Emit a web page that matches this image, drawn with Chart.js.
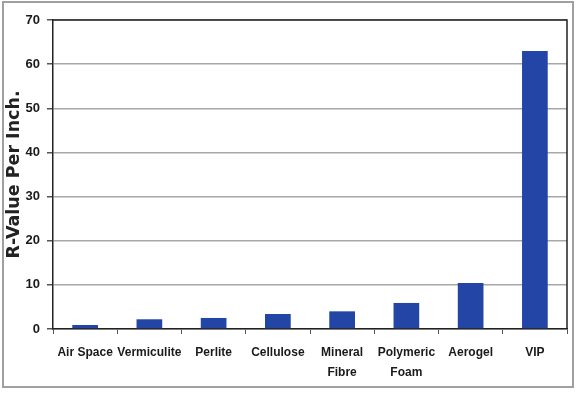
<!DOCTYPE html>
<html>
<head>
<meta charset="utf-8">
<script src="https://cdn.jsdelivr.net/npm/chart.js@4.4.3/dist/chart.umd.min.js"></script>
<style>
  html, body { margin: 0; padding: 0; background: #fff; }
  #wrap { width: 577px; height: 393px; position: relative; }
</style>
</head>
<body>
<div id="wrap"><canvas id="chart" width="577" height="393"></canvas></div>
<script>
const materials = ['Air Space', 'Vermiculite', 'Perlite', 'Cellulose', ['Mineral', 'Fibre'], ['Polymeric', 'Foam'], 'Aerogel', 'VIP'];
const rValues = [0.9, 2.2, 2.5, 3.4, 4.0, 5.9, 10.4, 63];
const yTicks = [0, 10, 20, 30, 40, 50, 60, 70];

const narrow = '"Liberation Sans Narrow", "Arial Narrow", "Liberation Sans", sans-serif';

// outer frame + dark top/right edges of the plot box
const framePlugin = {
  id: 'frame',
  afterDraw(chart) {
    const ctx = chart.ctx;
    const a = chart.chartArea;
    ctx.save();
    ctx.strokeStyle = '#a0a0a0';
    ctx.lineWidth = 2;
    ctx.strokeRect(3, 2, 570, 385);
    ctx.strokeStyle = '#222';
    ctx.lineWidth = 1.5;
    ctx.beginPath();
    ctx.moveTo(a.left, a.top);
    ctx.lineTo(a.right, a.top);
    ctx.lineTo(a.right, a.bottom);
    ctx.stroke();
    ctx.restore();
  }
};

new Chart(document.getElementById('chart'), {
  type: 'bar',
  data: {
    labels: materials,
    datasets: [{
      data: rValues,
      backgroundColor: '#2346a6',
      barPercentage: 0.4,
      categoryPercentage: 1
    }]
  },
  options: {
    responsive: false,
    animation: false,
    layout: { padding: { left: 0, top: 20, right: 10, bottom: 0 } },
    plugins: { legend: { display: false }, tooltip: { enabled: false } },
    scales: {
      x: {
        afterFit(scale) { scale.height = 64; },
        grid: { offset: true, drawOnChartArea: false, tickLength: 5, color: '#555', tickColor: '#555' },
        border: { color: '#222', width: 1.5 },
        ticks: {
          color: '#1a1a1a',
          padding: 9,
          maxRotation: 0,
          autoSkip: false,
          font: { family: narrow, size: 12, weight: 'bold', lineHeight: 1.65 }
        }
      },
      y: {
        min: 0,
        max: 70,
        afterFit(scale) { scale.width = 53; },
        afterBuildTicks(scale) { scale.ticks = yTicks.map(v => ({ value: v })); },
        grid: { color: '#a8a8a8', lineWidth: 1.5, tickLength: 6, tickColor: '#555' },
        border: { color: '#222', width: 1.5 },
        ticks: {
          color: '#1a1a1a',
          padding: 7,
          font: { family: narrow, size: 13, weight: 'bold' }
        },
        title: {
          display: true,
          text: 'R-Value Per Inch.',
          color: '#222',
          padding: { top: 4, bottom: 0 },
          font: { family: '"DejaVu Sans", sans-serif', size: 17.5, weight: 'bold' }
        }
      }
    }
  },
  plugins: [framePlugin]
});
</script>
</body>
</html>
